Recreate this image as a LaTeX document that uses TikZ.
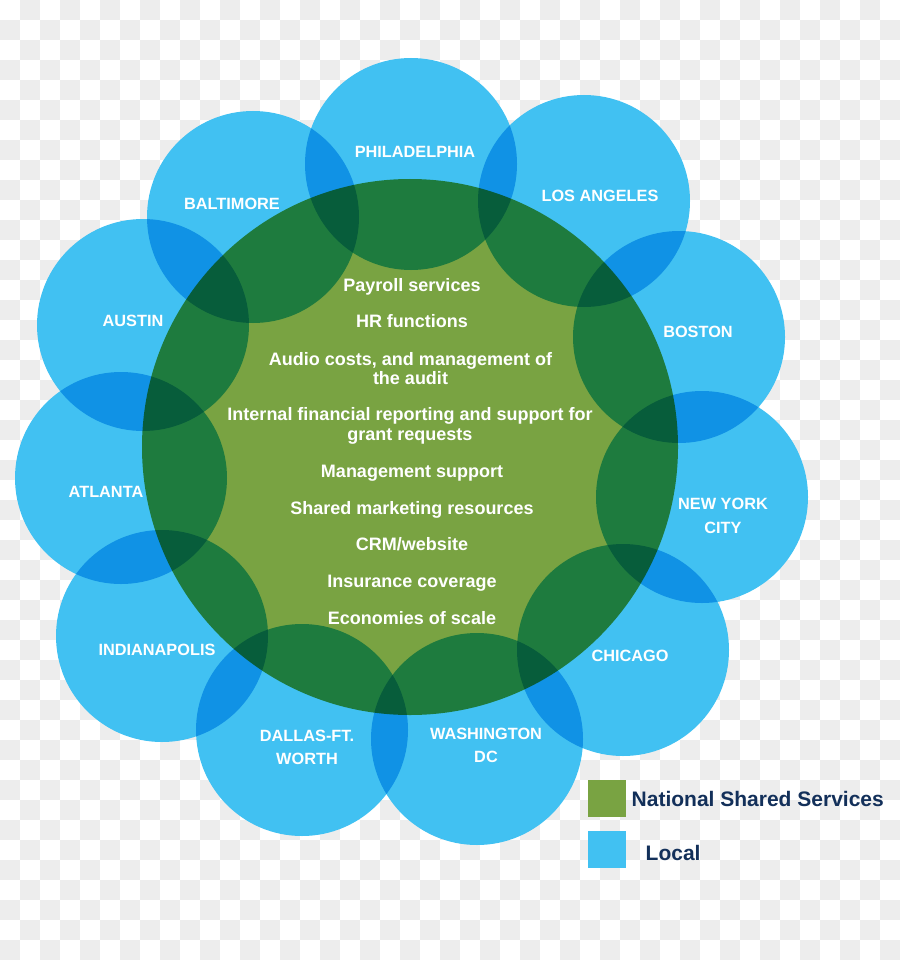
\documentclass[tikz,border=0pt]{standalone}
\usepackage{fontspec}
\setmainfont{Liberation Sans}
\definecolor{localblue}{HTML}{41C1F2}
\definecolor{sharedgreen}{HTML}{79A342}
\definecolor{legendnavy}{HTML}{13305A}
\definecolor{checkgray}{HTML}{EDEDED}

\begin{document}
\begin{tikzpicture}[x={(1pt,0)}, y={(0,-1pt)},
	disc/.style={circle, inner sep=0pt, minimum size=212pt, fill=localblue},
	hub/.style={circle, inner sep=0pt, minimum size=536pt, fill=sharedgreen},
	citylabel/.style={text=white, align=center, inner sep=0pt, font=\bfseries\fontsize{16.3}{23.5}\selectfont},
	service/.style={text=white, align=center, inner sep=0pt, font=\bfseries\fontsize{18}{19.5}\selectfont},
	keybox/.style={minimum width=38pt, minimum height=37pt, inner sep=0pt},
	keytext/.style={text=legendnavy, anchor=west, inner sep=0pt, font=\bfseries\fontsize{21}{25}\selectfont}]

	\useasboundingbox (0,0) rectangle (900,960);

	% Background squares
	\fill[white] (0,0) rectangle (900,960);
	\foreach \i in {0,...,44} {
		\pgfmathtruncatemacro\off{20*(1-mod(\i,2))}
		\foreach \k in {0,...,23}
			\fill[checkgray] (20*\i, 40*\k+\off) rectangle ++(20,20);
	}

	% Circles
	\begin{scope}[blend group=multiply]
		\foreach \x/\y/\n in {411/164/phl, 584/201/lax, 679/337/bos, 702/497/nyc, 623/650/chi, 477/739/was, 302/730/dal, 162/636/ind, 121/478/atl, 143/325/aus, 253/217/bal}
			\node[disc] (\n) at (\x,\y) {};
		\node[hub] (nss) at (410,447) {};
	\end{scope}

	% City names
	\foreach \x/\y/\n/\t in {415/152/phl/PHILADELPHIA, 600/196/lax/LOS ANGELES, 698/332/bos/BOSTON, 723/516/nyc/{NEW YORK\\CITY}, 630/656/chi/CHICAGO, 486/745.5/was/{WASHINGTON\\DC}, 307/747.5/dal/{DALLAS-FT.\\WORTH}, 157/650/ind/INDIANAPOLIS, 106/492/atl/ATLANTA, 133/321/aus/AUSTIN, 232/204/bal/BALTIMORE}
		\node[citylabel] (\n-name) at (\x,\y) {\t};

	% Shared services
	\node[service] (s1) at (412,287.2) {Payroll services};
	\node[service] (s2) at (412,321.4) {HR functions};
	\node[service] (s3) at (410.5,368.4) {Audio costs, and management of\\the audit};
	\node[service] (s4) at (410,426) {Internal financial reporting and support for\\grant requests};
	\node[service] (s5) at (412,473.2) {Management support};
	\node[service] (s6) at (412,509.9) {Shared marketing resources};
	\node[service] (s7) at (412,544.6) {CRM/website};
	\node[service] (s8) at (412,583.2) {Insurance coverage};
	\node[service] (s9) at (412,618) {Economies of scale};

	% Legend
	\node[keybox, fill=sharedgreen] (key1) at (607,798.5) {};
	\node[keybox, fill=localblue] (key2) at (607,849.5) {};
	\node[keytext] (key1-text) at (631.5,799) {National Shared Services};
	\node[keytext] (key2-text) at (645.5,853) {Local};

\end{tikzpicture}
\end{document}
